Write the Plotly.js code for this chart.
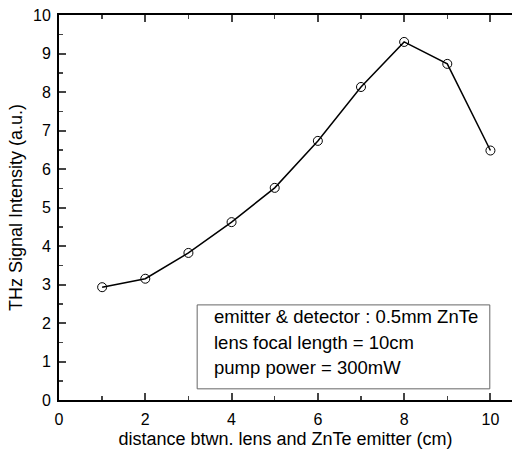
<!DOCTYPE html>
<html><head><meta charset="utf-8">
<script src="https://cdn.plot.ly/plotly-3.0.1.min.js"></script>
<style>html,body{margin:0;padding:0;background:#fff}</style>
</head><body><div id="chart" style="width:512px;height:454px"></div>
<script>
const distance = [1, 2, 3, 4, 5, 6, 7, 8, 9, 10];
const signal = [2.93, 3.15, 3.82, 4.62, 5.51, 6.73, 8.13, 9.30, 8.73, 6.48];
const xTicks = [0, 2, 4, 6, 8, 10];
const yTicks = [0, 1, 2, 3, 4, 5, 6, 7, 8, 9, 10];
const noteLines = ["emitter &amp; detector : 0.5mm ZnTe", "lens focal length = 10cm", "pump power = 300mW"];

const fam = "Liberation Sans, Arial, sans-serif";
const tickFont = {family: fam, size: 16, color: "#000"};
const titleFont = {family: fam, size: 18, color: "#000"};
const noteFont = {family: fam, size: 18.5, color: "#000"};
const trace = {
  x: distance, y: signal, type: "scatter", mode: "lines+markers",
  line: {color: "#000", width: 1.5},
  marker: {symbol: "circle-open", size: 9, color: "#000", line: {width: 1}},
  showlegend: false
};
const noteY = [0.2156, 0.1506, 0.0857];
const layout = {
  width: 512, height: 454,
  margin: {l: 59, r: 0, t: 15, b: 54},
  paper_bgcolor: "#fff", plot_bgcolor: "#fff",
  font: tickFont,
  xaxis: {
    range: [0, 10.5], tickvals: xTicks, ticks: "inside", ticklen: 7, tickwidth: 2,
    showline: true, linewidth: 2, linecolor: "#000", mirror: "ticks",
    showgrid: false, zeroline: false, tickfont: tickFont, ticklabelstandoff: 4,
    minor: {dtick: 1, ticks: "inside", ticklen: 4, tickwidth: 1.5},
    title: {text: "distance btwn. lens and ZnTe emitter (cm)", font: titleFont, standoff: 5}
  },
  yaxis: {
    range: [0, 10], tickvals: yTicks, ticks: "inside", ticklen: 7, tickwidth: 2,
    showline: true, linewidth: 2, linecolor: "#000",
    showgrid: false, zeroline: false, tickfont: tickFont, ticklabelstandoff: 3,
    minor: {dtick: 0.5, ticks: "inside", ticklen: 4, tickwidth: 1.5},
    title: {text: "THz Signal Intensity (a.u.)", font: titleFont, standoff: 6}
  },
  shapes: [{type: "rect", xref: "paper", yref: "paper", x0: 0.305, x1: 0.951, y0: 0.029, y1: 0.247,
            line: {color: "#666", width: 1}}],
  annotations: noteLines.map((t, i) => ({
    xref: "paper", yref: "paper", x: 0.337, y: noteY[i], xanchor: "left", yanchor: "middle",
    align: "left", showarrow: false, text: t, font: noteFont
  }))
};
Plotly.newPlot("chart", [trace], layout, {displayModeBar: false, staticPlot: true});
</script></body></html>
